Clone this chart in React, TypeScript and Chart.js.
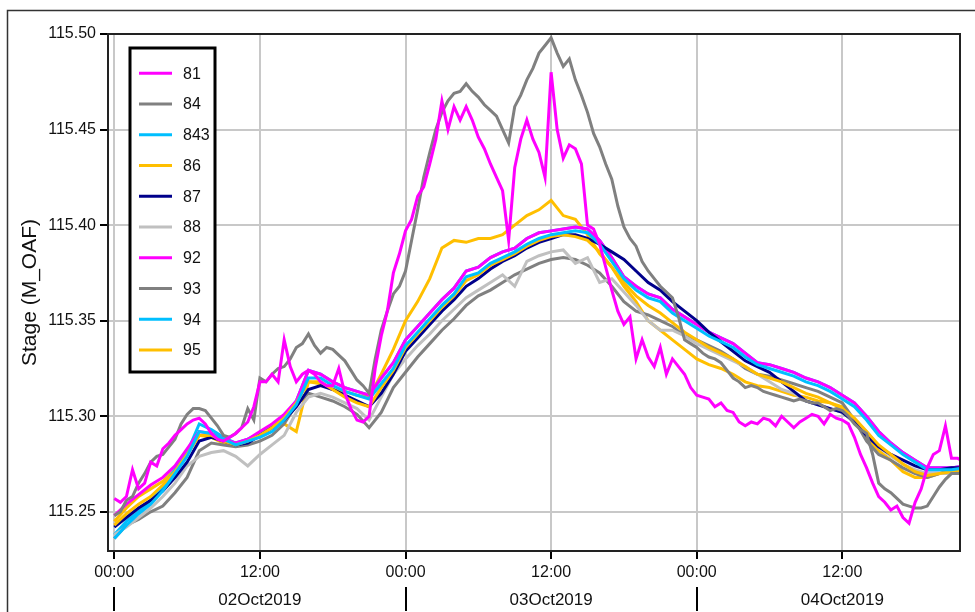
import React, { useEffect, useRef } from "react";
import { Chart, registerables } from "chart.js";

Chart.register(...registerables);

// ---- data (stage, M_OAF); time in hours from 02Oct2019 00:00 ----
const hours = [
  0, 1, 2, 3, 4, 5, 6, 7, 8, 9, 10, 11, 12, 13, 14, 15, 16, 17, 18, 19,
  20, 21, 22, 23, 24, 25, 26, 27, 28, 29, 30, 31, 32, 33, 34, 35, 36, 37, 38, 39,
  40, 41, 42, 43, 44, 45, 46, 47, 48, 49, 50, 51, 52, 53, 54, 55, 56, 57, 58, 59,
  60, 61, 62, 63, 64, 65, 66, 67, 68, 69, 70,
];
const halfHours = [
  0, 0.5, 1, 1.5, 2, 2.5, 3, 3.5, 4, 4.5, 5, 5.5, 6, 6.5, 7, 7.5, 8, 8.5, 9, 9.5,
  10, 10.5, 11, 11.5, 12, 12.5, 13, 13.5, 14, 14.5, 15, 15.5, 16, 16.5, 17, 17.5, 18, 18.5, 19, 19.5,
  20, 20.5, 21, 21.5, 22, 22.5, 23, 23.5, 24, 24.5, 25, 25.5, 26, 26.5, 27, 27.5, 28, 28.5, 29, 29.5,
  30, 30.5, 31, 31.5, 32, 32.5, 33, 33.5, 34, 34.5, 35, 35.5, 36, 36.5, 37, 37.5, 38, 38.5, 39, 39.5,
  40, 40.5, 41, 41.5, 42, 42.5, 43, 43.5, 44, 44.5, 45, 45.5, 46, 46.5, 47, 47.5, 48, 48.5, 49, 49.5,
  50, 50.5, 51, 51.5, 52, 52.5, 53, 53.5, 54, 54.5, 55, 55.5, 56, 56.5, 57, 57.5, 58, 58.5, 59, 59.5,
  60, 60.5, 61, 61.5, 62, 62.5, 63, 63.5, 64, 64.5, 65, 65.5, 66, 66.5, 67, 67.5, 68, 68.5, 69, 69.5,
  70,
];

const seriesNames = ["81", "84", "843", "86", "87", "88", "92", "93", "94", "95"];
const seriesColors = [
  "#ff00ff", "#808080", "#00bfff", "#ffbf00", "#00008b",
  "#c0c0c0", "#ff00ff", "#808080", "#00bfff", "#ffbf00",
];

// half-hourly
const s81 = [
  115.257, 115.255, 115.258, 115.272, 115.262, 115.265, 115.276, 115.274, 115.283, 115.286,
  115.290, 115.293, 115.296, 115.298, 115.299, 115.296, 115.291, 115.288, 115.287, 115.289,
  115.291, 115.294, 115.297, 115.305, 115.318, 115.318, 115.322, 115.318, 115.340, 115.326,
  115.318, 115.322, 115.324, 115.322, 115.318, 115.316, 115.316, 115.325, 115.312, 115.304,
  115.298, 115.297, 115.300, 115.325, 115.342, 115.355, 115.375, 115.385, 115.397, 115.403,
  115.415, 115.420, 115.432, 115.445, 115.465, 115.450, 115.462, 115.455, 115.462, 115.455,
  115.446, 115.440, 115.432, 115.425, 115.418, 115.392, 115.430, 115.445, 115.455, 115.445,
  115.438, 115.425, 115.480, 115.450, 115.435, 115.442, 115.440, 115.432, 115.400, 115.398,
  115.390, 115.378, 115.366, 115.355, 115.348, 115.352, 115.330, 115.340, 115.331, 115.326,
  115.336, 115.322, 115.330, 115.326, 115.322, 115.315, 115.311, 115.310, 115.309, 115.305,
  115.307, 115.303, 115.302, 115.297, 115.295, 115.297, 115.296, 115.299, 115.298, 115.295,
  115.300, 115.297, 115.294, 115.297, 115.299, 115.301, 115.300, 115.296, 115.301, 115.299,
  115.298, 115.296, 115.289, 115.280, 115.273, 115.265, 115.258, 115.255, 115.251, 115.253,
  115.247, 115.244, 115.255, 115.262, 115.273, 115.280, 115.282, 115.295, 115.278, 115.278,
  115.276,
];
// half-hourly
const s84 = [
  115.248, 115.250, 115.256, 115.258, 115.265, 115.270, 115.276, 115.279, 115.280, 115.284,
  115.288, 115.296, 115.301, 115.304, 115.304, 115.303, 115.299, 115.295, 115.290, 115.289,
  115.291, 115.294, 115.304, 115.298, 115.320, 115.318, 115.322, 115.325, 115.326, 115.330,
  115.336, 115.338, 115.343, 115.337, 115.333, 115.336, 115.335, 115.332, 115.329, 115.324,
  115.319, 115.316, 115.312, 115.330, 115.345, 115.355, 115.364, 115.368, 115.376, 115.392,
  115.408, 115.425, 115.438, 115.450, 115.459, 115.465, 115.469, 115.470, 115.474, 115.470,
  115.467, 115.463, 115.460, 115.457, 115.450, 115.443, 115.462, 115.468, 115.476, 115.482,
  115.490, 115.494, 115.498, 115.490, 115.483, 115.487, 115.476, 115.468, 115.459, 115.448,
  115.441, 115.432, 115.424, 115.410, 115.399, 115.393, 115.389, 115.381, 115.376, 115.372,
  115.368, 115.365, 115.362, 115.352, 115.340, 115.338, 115.336, 115.333, 115.331, 115.330,
  115.328, 115.324, 115.320, 115.318, 115.315, 115.316, 115.315, 115.313, 115.312, 115.311,
  115.310, 115.309, 115.308, 115.309, 115.308, 115.307, 115.307, 115.305, 115.303, 115.304,
  115.303, 115.300, 115.296, 115.293, 115.291, 115.280, 115.265, 115.262, 115.260, 115.257,
  115.254, 115.253, 115.252, 115.252, 115.253, 115.258, 115.263, 115.267, 115.270, 115.270,
  115.270,
];
// hourly
const s843 = [
  115.236, 115.243, 115.249, 115.254, 115.261, 115.270, 115.279, 115.292, 115.291, 115.288,
  115.285, 115.287, 115.289, 115.292, 115.298, 115.306, 115.320, 115.320, 115.316, 115.313,
  115.311, 115.309, 115.317, 115.325, 115.337, 115.344, 115.351, 115.358, 115.364, 115.373,
  115.375, 115.380, 115.383, 115.386, 115.390, 115.393, 115.395, 115.396, 115.397, 115.396,
  115.390, 115.381, 115.372, 115.366, 115.362, 115.360, 115.354, 115.350, 115.346, 115.342,
  115.339, 115.336, 115.331, 115.327, 115.325, 115.323, 115.321, 115.318, 115.316, 115.313,
  115.309, 115.305, 115.298, 115.290, 115.285, 115.280, 115.276, 115.272, 115.272, 115.272, 115.273,
];
const s86 = [
  115.243, 115.249, 115.254, 115.258, 115.264, 115.271, 115.280, 115.290, 115.290, 115.287,
  115.285, 115.287, 115.290, 115.294, 115.299, 115.307, 115.318, 115.318, 115.314, 115.310,
  115.307, 115.305, 115.315, 115.324, 115.336, 115.343, 115.350, 115.357, 115.363, 115.371,
  115.374, 115.379, 115.382, 115.385, 115.389, 115.392, 115.394, 115.395, 115.394, 115.392,
  115.386, 115.378, 115.370, 115.363, 115.358, 115.354, 115.349, 115.344, 115.340, 115.336,
  115.333, 115.330, 115.326, 115.322, 115.320, 115.318, 115.315, 115.312, 115.310, 115.307,
  115.304, 115.299, 115.292, 115.285, 115.280, 115.275, 115.271, 115.269, 115.270, 115.271, 115.272,
];
const s87 = [
  115.242, 115.247, 115.252, 115.256, 115.261, 115.268, 115.276, 115.287, 115.289, 115.287,
  115.285, 115.286, 115.290, 115.294, 115.298, 115.305, 115.314, 115.316, 115.314, 115.311,
  115.308, 115.305, 115.312, 115.322, 115.334, 115.341, 115.348, 115.355, 115.361, 115.368,
  115.372, 115.377, 115.381, 115.384, 115.388, 115.391, 115.393, 115.395, 115.395, 115.393,
  115.390, 115.386, 115.382, 115.376, 115.370, 115.366, 115.360, 115.355, 115.350, 115.344,
  115.339, 115.334, 115.329, 115.326, 115.323, 115.318, 115.313, 115.308, 115.306, 115.304,
  115.302, 115.297, 115.290, 115.284, 115.280, 115.277, 115.274, 115.272, 115.272, 115.273, 115.273,
];
const s88 = [
  115.238, 115.242, 115.247, 115.252, 115.258, 115.265, 115.274, 115.279, 115.281, 115.282,
  115.279, 115.274, 115.280, 115.285, 115.290, 115.302, 115.310, 115.312, 115.310, 115.307,
  115.304, 115.298, 115.310, 115.322, 115.330, 115.337, 115.343, 115.350, 115.356, 115.362,
  115.366, 115.370, 115.374, 115.368, 115.381, 115.384, 115.386, 115.387, 115.380, 115.383,
  115.370, 115.372, 115.365, 115.358, 115.350, 115.345, 115.345, 115.342, 115.338, 115.335,
  115.332, 115.329, 115.326, 115.322, 115.318, 115.314, 115.312, 115.308, 115.306, 115.304,
  115.302, 115.298, 115.292, 115.284, 115.279, 115.275, 115.272, 115.270, 115.270, 115.270, 115.270,
];
const s92 = [
  115.248, 115.254, 115.259, 115.264, 115.268, 115.274, 115.283, 115.292, 115.291, 115.288,
  115.286, 115.288, 115.292, 115.296, 115.301, 115.308, 115.324, 115.322, 115.318, 115.315,
  115.313, 115.311, 115.320, 115.328, 115.340, 115.347, 115.354, 115.361, 115.367, 115.376,
  115.378, 115.383, 115.386, 115.388, 115.393, 115.396, 115.397, 115.398, 115.399, 115.398,
  115.392, 115.383, 115.373, 115.368, 115.364, 115.362, 115.356, 115.352, 115.348, 115.344,
  115.341, 115.338, 115.333, 115.328, 115.327, 115.325, 115.323, 115.320, 115.318, 115.315,
  115.311, 115.307, 115.300, 115.292, 115.286, 115.281, 115.277, 115.273, 115.273, 115.273, 115.274,
];
const s93 = [
  115.236, 115.243, 115.246, 115.250, 115.253, 115.260, 115.268, 115.282, 115.286, 115.285,
  115.284, 115.285, 115.287, 115.290, 115.296, 115.306, 115.312, 115.310, 115.308, 115.305,
  115.301, 115.294, 115.302, 115.315, 115.323, 115.331, 115.338, 115.345, 115.351, 115.358,
  115.363, 115.366, 115.370, 115.374, 115.377, 115.380, 115.382, 115.383, 115.382, 115.379,
  115.375, 115.368, 115.360, 115.355, 115.353, 115.350, 115.347, 115.342, 115.340, 115.337,
  115.334, 115.330, 115.325, 115.322, 115.321, 115.319, 115.317, 115.315, 115.313, 115.310,
  115.307, 115.298, 115.287, 115.280, 115.277, 115.273, 115.270, 115.268, 115.270, 115.272, 115.272,
];
const s94 = [
  115.238, 115.245, 115.250, 115.256, 115.263, 115.272, 115.281, 115.296, 115.293, 115.289,
  115.286, 115.288, 115.291, 115.294, 115.300, 115.308, 115.324, 115.322, 115.318, 115.315,
  115.313, 115.311, 115.320, 115.328, 115.340, 115.347, 115.354, 115.361, 115.367, 115.376,
  115.378, 115.383, 115.386, 115.388, 115.393, 115.396, 115.397, 115.398, 115.399, 115.398,
  115.392, 115.383, 115.373, 115.368, 115.364, 115.362, 115.356, 115.352, 115.348, 115.344,
  115.341, 115.338, 115.333, 115.328, 115.327, 115.325, 115.323, 115.320, 115.318, 115.315,
  115.311, 115.307, 115.300, 115.292, 115.286, 115.281, 115.277, 115.273, 115.273, 115.273, 115.274,
];
const s95 = [
  115.245, 115.252, 115.258, 115.262, 115.266, 115.272, 115.280, 115.290, 115.289, 115.286,
  115.285, 115.287, 115.291, 115.295, 115.296, 115.292, 115.318, 115.317, 115.314, 115.313,
  115.311, 115.310, 115.322, 115.335, 115.350, 115.360, 115.372, 115.388, 115.392, 115.391,
  115.393, 115.393, 115.395, 115.400, 115.405, 115.408, 115.413, 115.405, 115.403, 115.395,
  115.385, 115.378, 115.368, 115.360, 115.350, 115.345, 115.340, 115.335, 115.330, 115.327,
  115.325, 115.322, 115.318, 115.316, 115.315, 115.313, 115.311, 115.310, 115.308, 115.307,
  115.305, 115.298, 115.288, 115.282, 115.277, 115.271, 115.268, 115.268, 115.270, 115.272, 115.273,
];

const seriesValues = [s81, s84, s843, s86, s87, s88, s92, s93, s94, s95];
const seriesTimes = [halfHours, halfHours, hours, hours, hours, hours, hours, hours, hours, hours];

const xTickValues = [0, 12, 24, 36, 48, 60];
const xTickLabels = ["00:00", "12:00", "00:00", "12:00", "00:00", "12:00"];
const yTickValues = [115.25, 115.3, 115.35, 115.4, 115.45, 115.5];
const dayStarts = [0, 24, 48];
const dayLabels = ["02Oct2019", "03Oct2019", "04Oct2019"];
const xRange = [-0.52, 69.7];
const yRange = [115.2295, 115.5];
const yTitle = "Stage (M_OAF)";

const FONT = '"Liberation Sans", Arial, sans-serif';

const decorPlugin = {
  id: "decor",
  afterDraw(chart: any) {
    const { ctx, chartArea: ca } = chart;
    const xs = chart.scales.x;
    ctx.save();
    // outer frame
    ctx.strokeStyle = "#333";
    ctx.lineWidth = 1.5;
    ctx.strokeRect(7.5, 10.5, chart.width + 20, chart.height + 20);
    // top and right plot borders
    ctx.strokeStyle = "#222";
    ctx.lineWidth = 2;
    ctx.beginPath();
    ctx.moveTo(ca.left, ca.top);
    ctx.lineTo(ca.right, ca.top);
    ctx.lineTo(ca.right, ca.bottom);
    ctx.stroke();
    // date row
    ctx.fillStyle = "#111";
    ctx.font = `17px ${FONT}`;
    ctx.textAlign = "center";
    ctx.textBaseline = "middle";
    ctx.strokeStyle = "#000";
    ctx.lineWidth = 2;
    dayStarts.forEach((d, i) => {
      const px = Math.round(xs.getPixelForValue(d));
      ctx.beginPath();
      ctx.moveTo(px, ca.bottom + 36);
      ctx.lineTo(px, ca.bottom + 60);
      ctx.stroke();
      ctx.fillText(dayLabels[i], xs.getPixelForValue(d + 12), ca.bottom + 49);
    });
    // legend
    const bx = ca.left + 22;
    const by = ca.top + 14;
    const bw = 85;
    const rowH = 30.75;
    const bh = 324;
    ctx.fillStyle = "#fff";
    ctx.fillRect(bx, by, bw, bh);
    ctx.strokeStyle = "#000";
    ctx.lineWidth = 3;
    ctx.strokeRect(bx, by, bw, bh);
    ctx.font = `16px ${FONT}`;
    ctx.textAlign = "left";
    ctx.textBaseline = "middle";
    chart.data.datasets.forEach((ds: any, i: number) => {
      const cy = by + 25.3 + i * rowH;
      ctx.strokeStyle = ds.borderColor;
      ctx.lineWidth = 3;
      ctx.beginPath();
      ctx.moveTo(bx + 9, cy);
      ctx.lineTo(bx + 42, cy);
      ctx.stroke();
      ctx.fillStyle = "#111";
      ctx.fillText(ds.label, bx + 53, cy + 1);
    });
    ctx.restore();
  },
};

export default function App() {
  const ref = useRef<HTMLCanvasElement | null>(null);
  useEffect(() => {
    if (!ref.current) return;
    const datasets = seriesNames.map((name, i) => ({
      label: name,
      data: seriesTimes[i].map((h, k) => ({ x: h, y: seriesValues[i][k] })),
      borderColor: seriesColors[i],
      backgroundColor: seriesColors[i],
      borderWidth: 3,
      pointRadius: 0,
      tension: 0,
      fill: false,
    }));
    const chart = new Chart(ref.current, {
      type: "line",
      data: { datasets },
      plugins: [decorPlugin],
      options: {
        animation: false,
        responsive: false,
        maintainAspectRatio: false,
        layout: { padding: { top: 34, right: 15, left: 0, bottom: 0 } },
        plugins: { legend: { display: false }, tooltip: { enabled: false }, title: { display: false } },
        scales: {
          x: {
            type: "linear",
            min: xRange[0],
            max: xRange[1],
            afterBuildTicks: (s: any) => {
              s.ticks = xTickValues.map((v) => ({ value: v }));
            },
            afterFit: (s: any) => {
              s.height = 61;
            },
            ticks: {
              autoSkip: false,
              maxRotation: 0,
              padding: 4,
              color: "#111",
              font: { family: FONT, size: 16 },
              callback: (v: any) => {
                const i = xTickValues.indexOf(Number(v));
                return i >= 0 ? xTickLabels[i] : "";
              },
            },
            grid: { color: "#c8c8c8", lineWidth: 2, tickColor: "#000", tickLength: 8, tickWidth: 2 },
            border: { display: true, color: "#222", width: 2 },
          },
          y: {
            type: "linear",
            min: yRange[0],
            max: yRange[1],
            afterBuildTicks: (s: any) => {
              s.ticks = yTickValues.map((v) => ({ value: v }));
            },
            afterFit: (s: any) => {
              s.width = 108;
            },
            ticks: {
              padding: 4,
              color: "#111",
              font: { family: FONT, size: 16 },
              callback: (v: any) => Number(v).toFixed(2),
            },
            grid: { color: "#c8c8c8", lineWidth: 2, tickColor: "#000", tickLength: 8, tickWidth: 2 },
            border: { display: true, color: "#222", width: 2 },
            title: {
              display: true,
              text: yTitle,
              color: "#111",
              font: { family: FONT, size: 21 },
              padding: { top: 18, bottom: 0 },
            },
          },
        },
      },
    });
    return () => chart.destroy();
  }, []);
  return (
    <div style={{ position: "fixed", left: 0, top: 0, width: 975, height: 612, background: "#fff" }}>
      <canvas ref={ref} width={975} height={612} style={{ display: "block" }} />
    </div>
  );
}
